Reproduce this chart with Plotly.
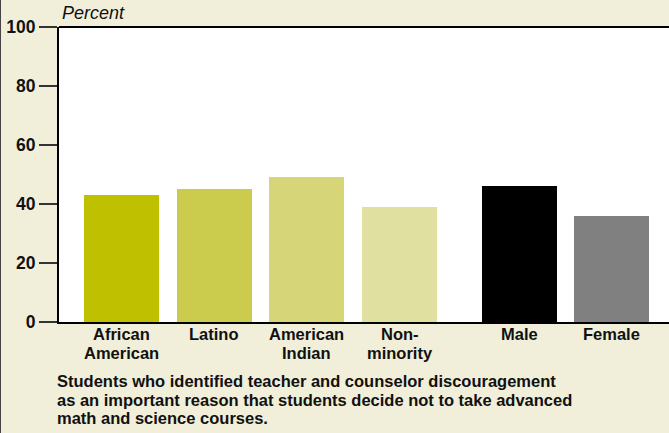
import plotly.graph_objects as go

# Share of students citing teacher/counselor discouragement, by group
categories = ["African<br>American", "Latino", "American<br>Indian", "Non-<br>minority", "Male", "Female"]
values = [43, 45, 49, 39, 46, 36]
colors = ["#BFC000", "#CBCB4E", "#D6D679", "#E0E0A1", "#000000", "#808080"]
y_ticks = [0, 20, 40, 60, 80, 100]
caption = [
    "Students who identified teacher and counselor discouragement",
    "as an important reason that students decide not to take advanced",
    "math and science courses.",
]

W, H = 669, 433
ML, MR, MT, MB = 59, 0, 27, 111
PW, PH = W - ML - MR, H - MT - MB
BG = "#F1EFD9"
FONT = "Liberation Sans, Arial, sans-serif"
TXT = 16.5
LEAD = 18.6

# race/ethnicity group, then a wider gap before the sex group
group_gap = 1.29
xpos = [0, 1, 2, 3, 3 + group_gap, 4 + group_gap]


def py(p):
    """pixel row -> paper y"""
    return (H - MB - p) / PH


def px(p):
    """pixel column -> paper x"""
    return (p - ML) / PW


fig = go.Figure(
    go.Bar(
        x=xpos,
        y=values,
        width=0.81,
        marker=dict(color=colors, line=dict(width=0)),
        hoverinfo="skip",
    )
)

annotations = []
# category labels, one annotation per line for tight leading
for x, cat in zip(xpos, categories):
    for i, line in enumerate(cat.split("<br>")):
        annotations.append(dict(
            x=x, xref="x", y=py(334.5 + LEAD * i), yref="paper",
            text=line, showarrow=False, xanchor="center", yanchor="middle",
            font=dict(family=FONT, size=TXT, color="#111111", weight="bold"),
        ))
# caption under the chart
for i, line in enumerate(caption):
    annotations.append(dict(
        x=px(55), xref="paper", y=py(381 + LEAD * i), yref="paper",
        text=line, showarrow=False, xanchor="left", yanchor="middle",
        font=dict(family=FONT, size=TXT, color="#111111", weight="bold"),
    ))
# axis unit
annotations.append(dict(
    x=px(60), xref="paper", y=py(13.5), yref="paper",
    text="Percent", showarrow=False, xanchor="left", yanchor="middle",
    font=dict(family=FONT, size=18, color="#111111", style="italic"),
))

fig.update_layout(
    width=W, height=H,
    margin=dict(l=ML, r=MR, t=MT, b=MB, pad=0),
    paper_bgcolor=BG, plot_bgcolor="#FFFFFF",
    showlegend=False,
    bargap=0,
    annotations=annotations,
    xaxis=dict(
        range=[-0.674, 5.906], showticklabels=False, ticks="",
        showgrid=False, zeroline=False,
        showline=True, linecolor="#000000", linewidth=2,
        fixedrange=True,
    ),
    yaxis=dict(
        range=[0, 100], tickvals=y_ticks,
        ticks="outside", ticklen=18, tickwidth=2, tickcolor="#333333",
        showgrid=False, zeroline=False,
        showline=True, linecolor="#000000", linewidth=2,
        tickfont=dict(family=FONT, size=17.5, color="#111111", weight="bold"),
        fixedrange=True,
    ),
    shapes=[
        # top edge of the plotting area
        dict(type="line", xref="paper", yref="paper", x0=0, x1=1, y0=1, y1=1,
             line=dict(color="#000000", width=2)),
        # left border of the panel
        dict(type="line", xref="paper", yref="paper", x0=px(0), x1=px(0), y0=py(0), y1=py(H),
             line=dict(color="#444444", width=2)),
    ],
)

fig.write_html("out.html", config={"displayModeBar": False})
